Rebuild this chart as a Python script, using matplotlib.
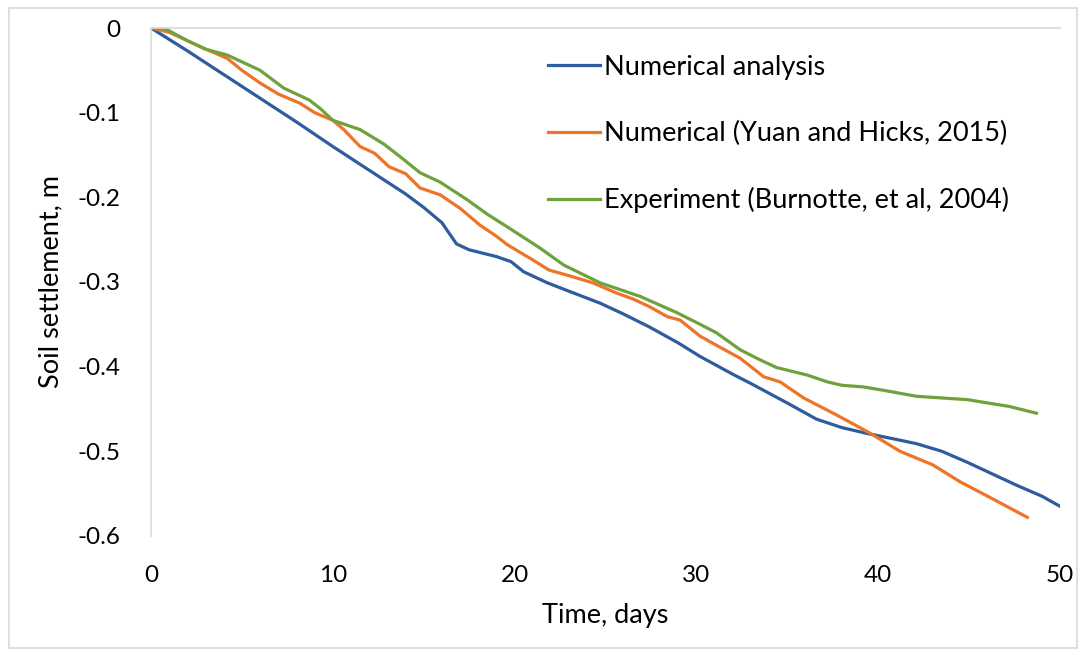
import matplotlib.pyplot as plt
from matplotlib.patches import Rectangle

plt.rcParams['font.family'] = ['Lato', 'DejaVu Sans']

# Numerical analysis
t_num = [0, 2, 4, 6, 8, 10, 12, 14, 15, 16, 16.8, 17.5, 19, 19.8, 20.5, 21.8, 23, 24.7, 26,
         27.4, 29, 30.2, 32, 33, 35, 36.6, 38, 39.4, 41, 42.1, 43.5, 44.9, 46, 47.6, 49, 50]
s_num = [0, -0.027, -0.055, -0.083, -0.111, -0.14, -0.168, -0.196, -0.212, -0.23, -0.255,
         -0.262, -0.27, -0.276, -0.288, -0.301, -0.311, -0.325, -0.338, -0.353, -0.372, -0.388,
         -0.409, -0.42, -0.443, -0.462, -0.472, -0.479, -0.486, -0.491, -0.5, -0.513, -0.524,
         -0.54, -0.553, -0.565]

# Numerical (Yuan and Hicks, 2015)
t_yh = [0, 1, 2.7, 4.2, 5, 6, 7, 8.2, 9, 10, 10.6, 11.5, 12.3, 13.1, 14, 14.8, 15.9, 17, 18.1,
        19, 19.6, 21, 21.9, 22.9, 24.3, 25.6, 26.5, 27.4, 28.4, 29.1, 30.2, 31.2, 32.4, 33.7,
        34.6, 35.9, 37.7, 39.5, 41.2, 43, 44.5, 46.1, 48.2]
s_yh = [0, -0.005, -0.022, -0.036, -0.05, -0.065, -0.078, -0.089, -0.1, -0.109, -0.12, -0.14,
        -0.148, -0.164, -0.172, -0.189, -0.197, -0.213, -0.233, -0.246, -0.256, -0.274, -0.286,
        -0.292, -0.301, -0.313, -0.32, -0.329, -0.341, -0.345, -0.364, -0.376, -0.39, -0.412,
        -0.418, -0.437, -0.457, -0.478, -0.5, -0.516, -0.536, -0.554, -0.578]

# Experiment (Burnotte, et al, 2004)
t_exp = [0, 0.8, 2, 3, 4.2, 5, 6, 7.3, 8.7, 9.3, 10, 11.5, 12.8, 13.7, 14.8, 15.9, 17.4, 18.5,
         19.6, 21.4, 22.7, 24.7, 26.9, 28.9, 30.2, 31.1, 32.4, 33.5, 34.4, 36.1, 37.2, 38, 39.2,
         40.3, 42.1, 44.9, 47.2, 48.7]
s_exp = [0, -0.001, -0.015, -0.025, -0.032, -0.04, -0.05, -0.071, -0.085, -0.095, -0.109,
         -0.12, -0.137, -0.152, -0.171, -0.182, -0.203, -0.22, -0.235, -0.26, -0.28, -0.301,
         -0.317, -0.336, -0.35, -0.36, -0.38, -0.392, -0.401, -0.41, -0.418, -0.422, -0.424,
         -0.428, -0.435, -0.439, -0.447, -0.455]

labels = ['Numerical analysis', 'Numerical (Yuan and Hicks, 2015)',
          'Experiment (Burnotte, et al, 2004)']
x_ticks = [0, 10, 20, 30, 40, 50]
y_ticks = [0, -0.1, -0.2, -0.3, -0.4, -0.5, -0.6]

fig = plt.figure(figsize=(10.82, 6.56), dpi=100)
ax = fig.add_axes([0.1396, 0.183, 0.8401, 0.7743])

ax.plot(t_num, s_num, color='#2F5C9E', lw=2.3, label=labels[0])
ax.plot(t_yh, s_yh, color='#ED7428', lw=2.3, label=labels[1])
ax.plot(t_exp, s_exp, color='#6FA23C', lw=2.3, label=labels[2])

ax.set_xlim(0, 50)
ax.set_ylim(-0.6, 0)
ax.set_xticks(x_ticks)
ax.set_yticks(y_ticks)
ax.set_yticklabels(['0', '-0.1', '-0.2', '-0.3', '-0.4', '-0.5', '-0.6'])
ax.tick_params(length=0, labelsize=17.5)
ax.tick_params(axis='x', pad=21)
ax.tick_params(axis='y', pad=22)

for s in ['right', 'bottom']:
    ax.spines[s].set_visible(False)
for s in ['left', 'top']:
    ax.spines[s].set_color('#D9D9D9')
    ax.spines[s].set_linewidth(1.2)

ax.set_xlabel('Time, days', fontsize=19.5, labelpad=12)
ax.set_ylabel('Soil settlement, m', fontsize=19.5, labelpad=10)

ax.legend(loc='upper left', bbox_to_anchor=(0.41, 0.995), frameon=False, fontsize=19.5,
          handlelength=1.9, handletextpad=0.15, labelspacing=1.52)

fig.patches.append(Rectangle((0.008, 0.012), 0.987, 0.976, transform=fig.transFigure,
                             fill=False, edgecolor='#D9D9D9', lw=1.2))

fig.savefig('out.png', dpi=100)
